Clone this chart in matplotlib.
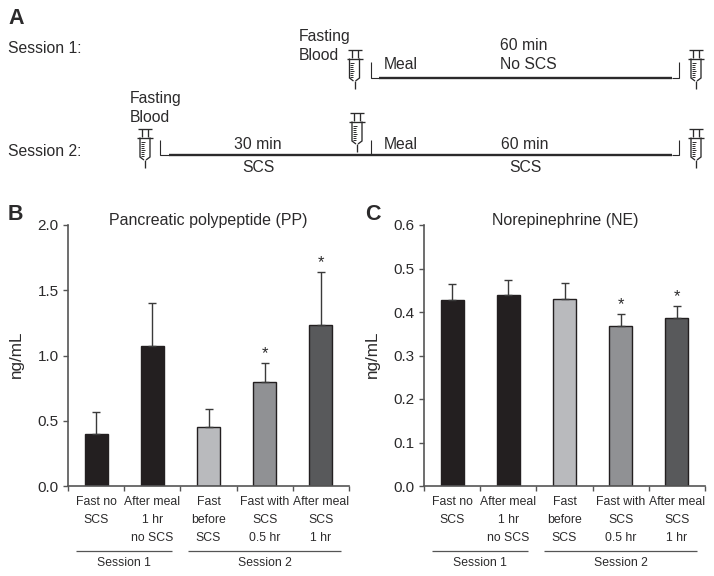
import matplotlib
matplotlib.use("Agg")
import matplotlib.pyplot as plt
from matplotlib.ticker import FixedLocator

plt.rcParams['font.family'] = ['Liberation Sans', 'DejaVu Sans']
W, H = 714, 576
INK = '#2b2a2b'
GREY = '#555555'

categories = ['Fast no\nSCS', 'After meal\n1 hr\nno SCS', 'Fast\nbefore\nSCS',
              'Fast with\nSCS\n0.5 hr', 'After meal\nSCS\n1 hr']
bar_colors = ['#231f20', '#231f20', '#b9babd', '#909194', '#58595b']
pp_means = [0.40, 1.07, 0.45, 0.80, 1.23]
pp_tops = [0.57, 1.40, 0.59, 0.94, 1.64]
pp_stars = [False, False, False, True, True]
ne_means = [0.428, 0.44, 0.43, 0.368, 0.387]
ne_tops = [0.465, 0.473, 0.467, 0.395, 0.413]
ne_stars = [False, False, False, True, True]

fig = plt.figure(figsize=(W / 100, H / 100), dpi=100)

# Schematic overlay in pixel coordinates
ov = fig.add_axes([0, 0, 1, 1])
ov.set_xlim(0, W)
ov.set_ylim(H, 0)
ov.axis('off')


def line(xs, ys, lw=1.0, c=INK):
    ov.plot(xs, ys, color=c, lw=lw, solid_capstyle='butt', solid_joinstyle='miter')


def syringe(x, t):
    line([x - 7, x + 7], [t, t], 0.95)
    line([x - 3, x - 3], [t, t + 8], 0.95)
    line([x + 3, x + 3], [t, t + 8], 0.95)
    line([x - 8, x + 8], [t + 8.5, t + 8.5], 0.95)
    line([x - 5, x - 5, x - 1, x - 1], [t + 8.5, t + 28, t + 31, t + 31], 0.95)
    line([x + 5, x + 5, x + 1, x + 1], [t + 8.5, t + 28, t + 31, t + 31], 0.95)
    line([x, x], [t + 31, t + 39], 0.95)
    for k in range(8):
        yy = t + 13 + k * 2
        line([x - 4.5, x - (0.5 if k % 4 == 0 else 1.5)], [yy, yy], 0.7)


for sx, st in [(354.5, 50), (145, 129), (357, 113), (696, 50), (696, 129)]:
    syringe(sx, st)

# Session 1 timeline
line([371, 371, 379], [62, 78, 78], 0.8)
line([379, 672], [78, 78], 1.7)
line([672, 679, 679], [78, 78, 62], 0.8)
# Session 2 timeline
line([160, 160, 169], [140, 155, 155], 0.8)
line([169, 672], [155, 155], 1.7)
line([371, 371], [140, 155], 0.8)
line([672, 679, 679], [155, 155, 140], 0.8)

schem = [
    (8, 48.5, 'Session 1:', 'left'), (8, 151.5, 'Session 2:', 'left'),
    (299, 37, 'Fasting', 'left'), (299, 55.5, 'Blood', 'left'),
    (130, 98.5, 'Fasting', 'left'), (130, 117.5, 'Blood', 'left'),
    (384, 64.5, 'Meal', 'left'), (384, 144.5, 'Meal', 'left'),
    (524, 46, '60 min', 'center'), (528, 64.5, 'No SCS', 'center'),
    (525, 144.5, '60 min', 'center'), (525, 168, 'SCS', 'center'),
    (258, 144.5, '30 min', 'center'), (258, 168, 'SCS', 'center'),
]
for x, y, s, ha in schem:
    ov.text(x, y, s, ha=ha, va='center', fontsize=11.3, color=INK)

for x, y, s in [(8, 18, 'A'), (8, 214, 'B'), (365, 214, 'C')]:
    ov.text(x, y, s, ha='left', va='center', fontsize=15.5, fontweight='bold', color=INK)


def panel(x0, means, tops, stars, ymax, step, fmt, title, title_x, ylab_x,
          sess):
    x1 = x0 + 281
    ax = fig.add_axes([x0 / W, 1 - 486 / H, (x1 - x0) / W, 261 / H])
    ax.patch.set_alpha(0)
    n = len(means)
    xs = list(range(n))
    errs = [t - m for t, m in zip(tops, means)]
    ax.bar(xs, means, width=0.41, color=bar_colors, edgecolor='#231f20', linewidth=1.0,
           yerr=[[0] * n, errs], ecolor='#3a3a3a',
           error_kw=dict(elinewidth=1.0, capsize=3.2, capthick=1.0), zorder=2)
    ax.set_xlim(-0.5, n - 0.5)
    ax.set_ylim(0, ymax)
    nt = int(round(ymax / step))
    ax.set_yticks([i * step for i in range(nt + 1)])
    ax.set_yticklabels([fmt % (i * step) for i in range(nt + 1)], fontsize=11, color=INK)
    ax.xaxis.set_major_locator(FixedLocator([i - 0.5 for i in range(n + 1)]))
    ax.tick_params(axis='x', which='major', length=3.8, width=1.0, color=GREY, labelbottom=False)
    ax.tick_params(axis='y', length=3.8, width=1.0, color=GREY, pad=3)
    ax.set_xticks(xs, minor=True)
    ax.set_xticklabels(categories, minor=True, fontsize=8.8, color=INK, linespacing=1.63)
    ax.tick_params(axis='x', which='minor', length=0, pad=7.5)
    for s in ['top', 'right']:
        ax.spines[s].set_visible(False)
    for s in ['left', 'bottom']:
        ax.spines[s].set_color(GREY)
        ax.spines[s].set_linewidth(1.2)
    for i, st in enumerate(stars):
        if st:
            ax.annotate('*', (i, tops[i]), xytext=(0, 1.5), textcoords='offset points',
                        ha='center', va='bottom', fontsize=12, color=INK)
    ov.text(title_x, 220, title, ha='center', va='center', fontsize=11.5, color=INK)
    ov.text(ylab_x, 354, 'ng/mL', rotation=90, ha='center', va='center', fontsize=12.3, color=INK)
    for a, b, lab in sess:
        line([a, b], [551, 551], 0.9, GREY)
        ov.text((a + b) / 2, 563, lab, ha='center', va='center', fontsize=8.8, color=INK)


panel(68, pp_means, pp_tops, pp_stars, 2.0, 0.5, '%.1f',
      'Pancreatic polypeptide (PP)', 208, 16,
      [(76, 172, 'Session 1'), (188, 341, 'Session 2')])
panel(424, ne_means, ne_tops, ne_stars, 0.6, 0.1, '%.1f',
      'Norepinephrine (NE)', 565, 372,
      [(432, 528, 'Session 1'), (544, 697, 'Session 2')])

fig.savefig('out.png', dpi=100)
